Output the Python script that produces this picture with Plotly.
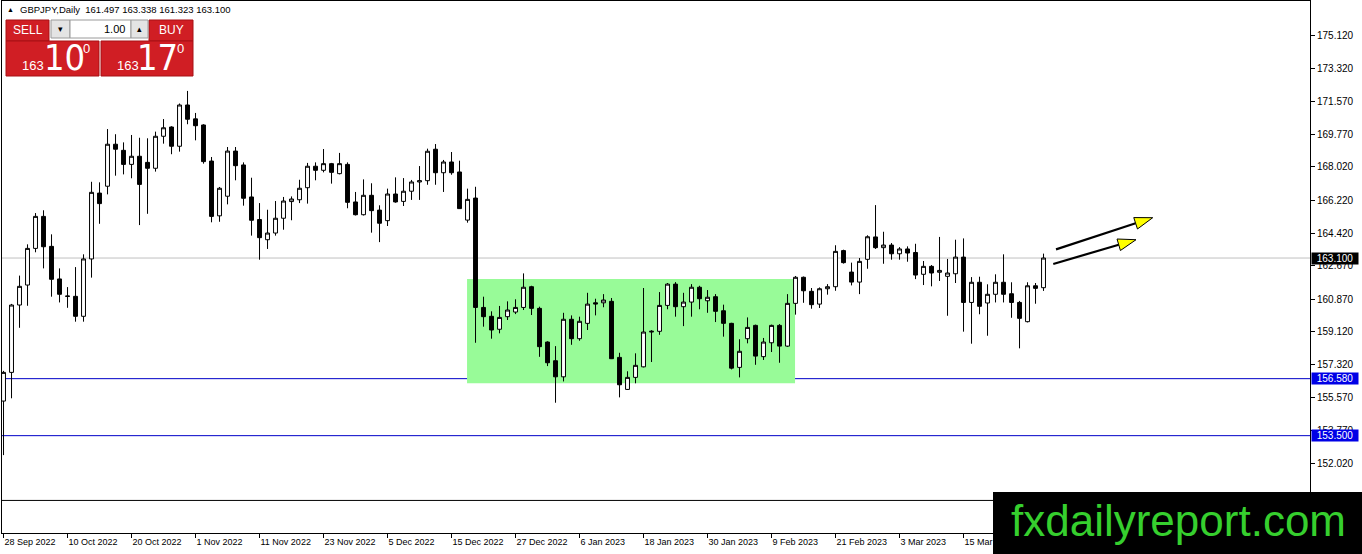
"""GBPJPY daily candles (MT4 screenshot look) -- range box, S/R lines, bid line, one-click panel, watermark."""
import numpy as np
import pandas as pd
import plotly.graph_objects as go

# ---- data ----
SYMBOL = "GBPJPY,Daily"
OPEN = [155.37, 156.92, 160.56, 161.64, 163.62, 165.35, 163.73, 161.97, 161.05, 161.03,
        159.95, 163.05, 166.61, 166.98, 169.25, 168.92, 168.16, 168.60, 168.27, 167.95,
        169.68, 170.18, 169.14, 171.37, 170.62, 170.29, 168.34, 165.38, 166.44, 168.88,
        168.13, 166.40, 165.18, 164.09, 164.45, 165.25, 166.15, 166.25, 166.90, 168.06,
        167.84, 168.20, 167.66, 168.16, 166.13, 165.44, 166.49, 165.69, 165.12, 166.56,
        166.16, 166.71, 167.21, 167.28, 168.98, 167.71, 168.29, 167.75, 165.15, 166.34,
        160.43, 159.95, 159.25, 159.93, 160.18, 160.43, 161.55, 160.38, 158.56, 157.55,
        156.68, 159.79, 158.74, 159.57, 160.68, 160.68, 160.76, 157.73, 156.00, 156.65,
        157.22, 159.10, 159.14, 160.54, 161.69, 160.47, 160.72, 161.52, 160.79, 161.01,
        160.25, 159.57, 157.19, 158.74, 159.46, 157.77, 158.52, 159.46, 158.34, 160.65,
        162.06, 161.30, 160.61, 161.44, 161.55, 163.50, 162.34, 161.80, 163.03, 164.24,
        163.66, 163.80, 163.33, 163.59, 163.40, 162.22, 162.65, 162.33, 162.11, 162.25,
        163.15, 160.70, 161.79, 160.67, 161.14, 161.79, 161.17, 160.70, 159.66, 161.60,
        161.497]
HIGH = [157.00, 160.62, 162.15, 163.84, 165.53, 165.68, 164.38, 162.54, 161.53, 162.61,
        163.30, 167.22, 167.19, 170.07, 169.79, 169.35, 169.75, 169.60, 169.57, 169.93,
        170.61, 170.22, 171.45, 172.13, 170.94, 170.33, 168.56, 166.94, 169.10, 169.10,
        168.27, 167.44, 166.07, 165.71, 166.18, 166.40, 166.43, 167.33, 168.24, 168.27,
        168.99, 168.24, 168.78, 168.27, 166.67, 167.35, 167.14, 165.95, 166.85, 167.46,
        167.42, 167.32, 168.07, 169.01, 169.26, 168.40, 168.83, 168.36, 166.85, 166.95,
        161.01, 160.22, 160.51, 160.76, 160.87, 162.27, 161.60, 160.47, 158.60, 158.34,
        160.14, 160.00, 159.93, 161.22, 160.90, 161.15, 160.94, 157.98, 156.98, 157.95,
        161.48, 159.20, 161.26, 161.75, 161.80, 161.22, 161.69, 161.60, 161.37, 161.15,
        160.58, 159.60, 158.71, 159.89, 159.50, 158.78, 159.50, 159.53, 161.15, 162.13,
        162.10, 161.48, 161.51, 161.69, 163.79, 163.55, 162.85, 163.10, 164.33, 165.96,
        164.52, 163.91, 163.69, 163.73, 163.87, 162.94, 162.72, 164.24, 163.05, 164.09,
        164.16, 162.07, 162.09, 161.68, 162.22, 163.30, 161.79, 160.78, 161.79, 161.75,
        163.338]
LOW = [152.45, 155.52, 159.33, 160.52, 163.41, 162.54, 161.01, 160.70, 160.41, 159.66,
       159.66, 162.04, 164.95, 166.54, 167.55, 167.62, 167.41, 164.88, 165.49, 167.77,
       169.28, 168.71, 168.85, 170.33, 169.46, 168.20, 165.03, 165.06, 166.00, 167.30,
       165.93, 164.31, 163.01, 163.59, 164.31, 164.63, 165.14, 166.07, 166.04, 167.30,
       167.73, 167.12, 167.62, 165.79, 165.40, 165.40, 164.47, 163.96, 164.83, 166.09,
       165.91, 166.24, 166.24, 167.06, 167.06, 166.67, 167.60, 165.75, 165.01, 158.52,
       159.39, 158.74, 159.03, 159.75, 160.07, 160.29, 160.02, 157.76, 157.26, 155.28,
       156.43, 158.41, 158.63, 159.21, 160.00, 160.44, 157.64, 155.57, 155.97, 156.33,
       157.19, 157.48, 158.95, 160.33, 159.93, 159.42, 159.93, 160.33, 160.14, 159.64,
       158.85, 157.08, 156.65, 158.49, 157.33, 157.59, 158.02, 157.44, 158.30, 160.04,
       160.68, 160.36, 160.40, 161.12, 161.33, 162.80, 161.62, 161.15, 162.52, 163.59,
       162.79, 163.01, 163.01, 162.90, 161.96, 161.64, 161.57, 161.86, 159.98, 161.75,
       159.12, 158.47, 160.06, 158.90, 160.70, 160.70, 159.87, 158.22, 159.62, 160.63,
       161.323]
CLOSE = [156.92, 160.56, 161.57, 163.62, 165.35, 163.71, 161.95, 161.14, 161.03, 159.95,
         163.05, 166.65, 166.04, 169.25, 168.98, 168.16, 168.60, 167.08, 167.95, 169.68,
         170.14, 169.14, 171.37, 170.60, 170.25, 168.31, 165.35, 166.87, 168.88, 168.09,
         166.33, 165.14, 164.20, 164.45, 165.25, 166.18, 166.29, 166.87, 168.06, 167.84,
         168.20, 167.73, 168.20, 166.11, 165.44, 166.49, 165.66, 164.98, 166.56, 166.13,
         166.71, 167.21, 167.28, 168.87, 167.71, 168.29, 167.71, 165.77, 166.27, 160.43,
         159.93, 159.21, 159.89, 160.29, 160.43, 161.52, 160.38, 158.31, 157.44, 156.68,
         159.79, 158.74, 159.68, 160.61, 160.62, 160.83, 157.66, 156.25, 156.65, 157.30,
         159.10, 159.14, 160.54, 161.69, 160.47, 160.72, 161.52, 160.90, 160.98, 160.22,
         159.57, 157.15, 158.06, 159.35, 157.80, 158.56, 159.46, 158.34, 160.65, 162.06,
         161.33, 160.58, 161.44, 161.55, 163.46, 162.85, 161.80, 162.92, 164.25, 163.66,
         163.80, 163.33, 163.59, 163.37, 162.18, 162.65, 162.29, 162.43, 162.29, 163.15,
         160.70, 161.79, 160.49, 161.14, 161.79, 161.14, 160.70, 159.84, 161.60, 161.46,
         163.100]
DATES = pd.bdate_range("2022-09-28", periods=len(CLOSE))   # MT4 daily bars, weekdays only
X_TICK_LABELS = ["28 Sep 2022", "10 Oct 2022", "20 Oct 2022", "1 Nov 2022", "11 Nov 2022",
                 "23 Nov 2022", "5 Dec 2022", "15 Dec 2022", "27 Dec 2022", "6 Jan 2023",
                 "18 Jan 2023", "30 Jan 2023", "9 Feb 2023", "21 Feb 2023", "3 Mar 2023",
                 "15 Mar 2023", "27 Mar 2023"]
Y_TICKS = [152.020, 153.770, 155.570, 157.320, 159.120, 160.870, 162.670,
           164.420, 166.220, 168.020, 169.770, 171.570, 173.320, 175.120]
BID = 163.100
BLUE_LEVELS = [156.580, 153.500]
BLACK_LEVEL = 150.000
SELL_PX, BUY_PX = ("163", "10", "0"), ("163", "17", "0")
LOT = "1.00"
WATERMARK = "fxdailyreport.com"

# drawings (bar index / price units)
RANGE_BOX = dict(x0=57.94, x1=98.94, y0=156.33, y1=161.96)
ARROWS = [((131.56, 163.57), (143.65, 165.28)),
          ((131.22, 162.78), (141.56, 164.09))]

# ---- geometry ----
W, H = 1362, 554
ML, MR, MT, MB = 2, 52, 1, 21
PW, PH = W - ML - MR, H - MT - MB
XR = [-0.19, 163.31]
YR = [148.24, 176.99]
SX, SY = PW / (XR[1] - XR[0]), PH / (YR[1] - YR[0])   # px per bar, px per yen
FONT = "Liberation Sans, Arial, sans-serif"
NARROW = "Liberation Sans Narrow, DejaVu Sans Condensed, Liberation Sans, sans-serif"

def pxx(px): return (px - ML) / PW
def pxy(py): return 1 - (py - MT) / PH

xi = np.arange(len(CLOSE))
date_pos = {d: i for i, d in enumerate(DATES)}
tickvals = [date_pos[pd.Timestamp(s)] for s in X_TICK_LABELS]

fig = go.Figure()
fig.add_trace(go.Candlestick(
    x=xi, open=OPEN, high=HIGH, low=LOW, close=CLOSE, whiskerwidth=0,
    increasing=dict(line=dict(color="black", width=1), fillcolor="white"),
    decreasing=dict(line=dict(color="black", width=1), fillcolor="black"),
    hoverinfo="skip", showlegend=False))

# arrows: black shaft + yellow head (head built in pixel space so it keeps its shape)
HEAD_LEN, HEAD_HW = 18, 6
for (x0, y0), (x1, y1) in ARROWS:
    dx, dy = (x1 - x0) * SX, (y1 - y0) * SY
    ln = np.hypot(dx, dy); ux, uy = dx / ln, dy / ln; nx, ny = -uy, ux
    bx, by = x1 - ux * HEAD_LEN / SX, y1 - uy * HEAD_LEN / SY
    fig.add_trace(go.Scatter(x=[x0, bx], y=[y0, by], mode="lines", line=dict(color="black", width=2.2),
                             hoverinfo="skip", showlegend=False))
    fig.add_trace(go.Scatter(x=[x1, bx + nx * HEAD_HW / SX, bx - nx * HEAD_HW / SX, x1],
                             y=[y1, by + ny * HEAD_HW / SY, by - ny * HEAD_HW / SY, y1],
                             mode="lines", fill="toself", fillcolor="#FFFF00",
                             line=dict(color="black", width=1), hoverinfo="skip", showlegend=False))

shapes = [dict(type="rect", xref="x", yref="y", layer="below", line=dict(width=0),
               fillcolor="#98FB98", **RANGE_BOX),
          dict(type="line", xref="paper", yref="y", x0=0, x1=1, y0=BID, y1=BID, layer="below",
               line=dict(color="#C0C0C0", width=1)),
          dict(type="line", xref="paper", yref="y", x0=0, x1=1, y0=BLACK_LEVEL, y1=BLACK_LEVEL,
               layer="below", line=dict(color="black", width=1))]
for lv in BLUE_LEVELS:
    shapes.append(dict(type="line", xref="paper", yref="y", x0=0, x1=1, y0=lv, y1=lv, layer="below",
                       line=dict(color="#0000C8", width=1)))

annotations = []
# price labels on the right scale
for lv, bg in [(BID, "black")] + [(lv, "#0000E6") for lv in BLUE_LEVELS]:
    annotations.append(dict(xref="paper", yref="y", x=1, y=lv, xanchor="left", xshift=1,
                            text=f"{lv:.3f}", showarrow=False, bgcolor=bg, width=46, height=11,
                            borderpad=0, font=dict(family=FONT, size=10, color="white")))

def px_rect(x0, y0, x1, y1, fill, line=None, layer="above"):
    return dict(type="rect", xref="paper", yref="paper", x0=pxx(x0), x1=pxx(x1), y0=pxy(y1), y1=pxy(y0),
                fillcolor=fill, layer=layer, line=dict(color=line or fill, width=1 if line else 0))

def px_text(x, y, text, size, color="white", xanchor="center", family=FONT):
    return dict(xref="paper", yref="paper", x=pxx(x), y=pxy(y), xanchor=xanchor, yanchor="middle",
                text=text, showarrow=False, font=dict(family=family, size=size, color=color))

# header text
annotations.append(px_text(10, 9, "▲", 7, "black"))
annotations.append(px_text(18, 9, f"{SYMBOL}  {OPEN[-1]:.3f} {HIGH[-1]:.3f} {LOW[-1]:.3f} {CLOSE[-1]:.3f}",
                           9.5, "black", "left"))

# one-click trading panel
RED = "#D01E24"
shapes += [px_rect(6, 20, 49, 41, RED, "#A81015"), px_rect(149, 20, 193, 41, RED, "#A81015"),
           px_rect(51, 20, 70, 38, "#E4E4E4", "#9A9A9A"), px_rect(70, 20, 131, 38, "white", "#9A9A9A"),
           px_rect(131, 20, 148, 38, "#E4E4E4", "#9A9A9A"),
           px_rect(6, 41, 99, 76, RED, "#A81015"), px_rect(101, 41, 193, 76, RED, "#A81015")]
annotations += [px_text(27.5, 30, "SELL", 12), px_text(171, 30, "BUY", 12),
                px_text(60.5, 29, "▾", 9, "black"), px_text(139.5, 29, "▴", 9, "black"),
                px_text(127, 29, LOT, 11, "black", "right"),
                px_text(33, 66, SELL_PX[0], 13), px_text(64.5, 57.5, SELL_PX[1], 36, family=NARROW),
                px_text(86, 48.5, SELL_PX[2], 13),
                px_text(127.5, 66, BUY_PX[0], 13), px_text(157.5, 57.5, BUY_PX[1], 36, family=NARROW),
                px_text(180, 48.5, BUY_PX[2], 13)]

# watermark
shapes.append(px_rect(993, 492, 1363, 555, "black"))
annotations.append(px_text(1178, 520, WATERMARK, 44, "#36CF2E"))

fig.update_layout(
    width=W, height=H, margin=dict(l=ML, r=MR, t=MT, b=MB, pad=0),
    paper_bgcolor="white", plot_bgcolor="white", showlegend=False, hovermode=False,
    font=dict(family=FONT, size=10, color="black"),
    xaxis=dict(range=XR, tickvals=tickvals, ticktext=X_TICK_LABELS, ticks="outside", ticklen=4,
               tickcolor="black", ticklabelposition="outside right", showgrid=False, zeroline=False,
               showline=True, linecolor="black", mirror=True, rangeslider=dict(visible=False),
               tickfont=dict(family=FONT, size=9, color="black")),
    yaxis=dict(range=YR, side="right", tickvals=Y_TICKS, ticktext=[f"{v:.3f}" for v in Y_TICKS],
               ticks="outside", ticklen=4, tickcolor="black", showgrid=False, zeroline=False,
               showline=True, linecolor="black", mirror=True,
               tickfont=dict(family=FONT, size=10, color="black")),
    shapes=shapes, annotations=annotations)
# page body has a default 8px margin; drop it so the figure sits at the window's corner
fig.write_html("out.html", config={"displayModeBar": False},
               post_script="document.body.style.margin='0';document.body.style.overflow='hidden';")
